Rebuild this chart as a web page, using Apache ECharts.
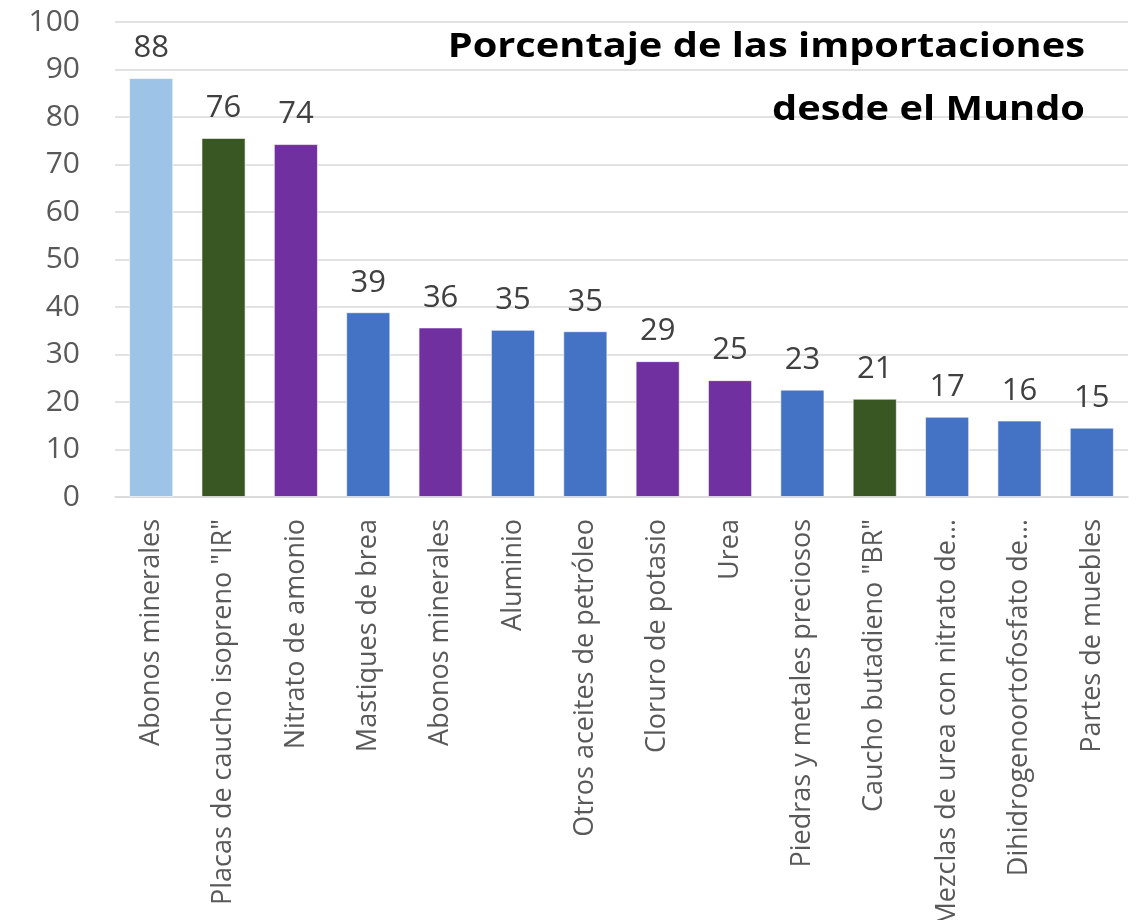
<!DOCTYPE html>
<html>
<head>
<meta charset="utf-8">
<script src="https://cdn.jsdelivr.net/npm/echarts@6/dist/echarts.min.js"></script>
<style>html,body{margin:0;padding:0;background:#fff}#c{width:1138px;height:920px}</style>
</head>
<body>
<div id="c"></div>
<script>
const categories = ["Abonos minerales", "Placas de caucho isopreno \"IR\"", "Nitrato de amonio", "Mastiques de brea", "Abonos minerales", "Aluminio", "Otros aceites de petróleo", "Cloruro de potasio", "Urea", "Piedras y metales preciosos", "Caucho butadieno \"BR\"", "Mezclas de urea con nitrato de…", "Dihidrogenoortofosfato de…", "Partes de muebles"];
const values = [88.2, 75.6, 74.3, 38.9, 35.7, 35.2, 34.9, 28.6, 24.6, 22.6, 20.7, 16.9, 16.1, 14.6];
const barColors = ["#9DC3E6", "#385723", "#7030A0", "#4472C4", "#7030A0", "#4472C4", "#4472C4", "#7030A0", "#7030A0", "#4472C4", "#385723", "#4472C4", "#4472C4", "#4472C4"];
const yTicks = [0, 10, 20, 30, 40, 50, 60, 70, 80, 90, 100];
const titleLines = ["Porcentaje de las importaciones", "desde el Mundo"];

const chart = echarts.init(document.getElementById('c'));
const FONT = '"Open Sans", "Noto Sans", sans-serif';
chart.setOption({
  animation: false,
  backgroundColor: '#fff',
  graphic: [{
    type: 'text', x: 1085, y: 16, scaleX: 1.17, originX: 0, z: 10,
    style: { text: titleLines.join('\n'), fontFamily: FONT, fontWeight: 'bold', fontSize: 34, lineHeight: 63, fill: '#000', textAlign: 'right', textVerticalAlign: 'top' }
  }],
  grid: { left: 115, right: 10, top: 22, bottom: 423, containLabel: false, outerBoundsMode: 'none' },
  xAxis: {
    type: 'category', data: categories,
    axisLine: { lineStyle: { color: '#d9d9d9', width: 1.5 } },
    axisTick: { show: false },
    axisLabel: { rotate: 90, interval: 0, margin: 22, color: '#595959', fontSize: 27, fontFamily: FONT }
  },
  yAxis: {
    type: 'value', min: yTicks[0], max: yTicks[yTicks.length - 1], interval: 10,
    axisLine: { show: false }, axisTick: { show: false },
    axisLabel: { margin: 35, color: '#595959', fontSize: 30, fontFamily: FONT },
    splitLine: { lineStyle: { color: '#d9d9d9', width: 1.5 } }
  },
  series: [{
    type: 'bar', barCategoryGap: '39%',
    data: values.map((v, i) => ({ value: v, itemStyle: { color: barColors[i] } })),
    itemStyle: { borderColor: 'rgba(255,255,255,0.6)', borderWidth: 1 },
    label: { show: true, position: 'top', distance: 14, color: '#404040', fontSize: 31, fontFamily: FONT, formatter: p => Math.round(p.value) }
  }]
});
</script>
</body>
</html>
